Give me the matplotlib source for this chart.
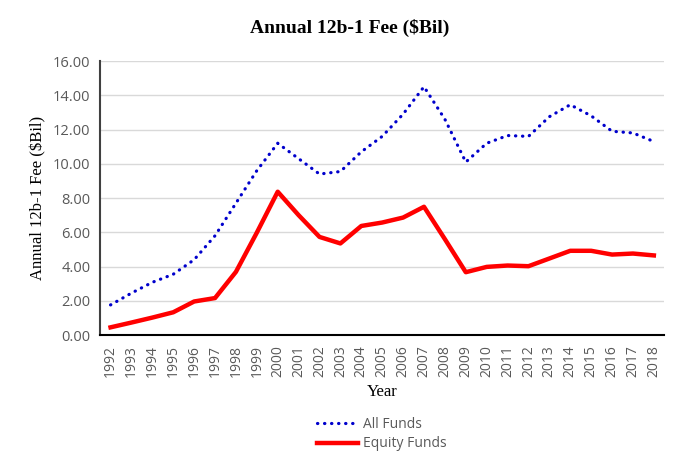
import matplotlib
matplotlib.use("Agg")
import matplotlib.pyplot as plt
import numpy as np

years = list(range(1992, 2019))
all_funds = [1.76, 2.45, 3.08, 3.55, 4.4, 5.8, 7.7, 9.6, 11.2, 10.3, 9.4, 9.55,
             10.7, 11.6, 12.9, 14.5, 12.6, 10.1, 11.2, 11.65, 11.6, 12.75, 13.45,
             12.8, 11.9, 11.8, 11.3]
equity_funds = [0.45, 0.73, 1.02, 1.33, 1.96, 2.16, 3.69, 5.98, 8.37, 7.0, 5.73, 5.35,
                6.37, 6.57, 6.86, 7.49, 5.6, 3.67, 3.98, 4.06, 4.02, 4.47, 4.92,
                4.92, 4.7, 4.76, 4.65]
yticks = [0, 2, 4, 6, 8, 10, 12, 14, 16]

fig = plt.figure(figsize=(7, 4.66), dpi=100)
ax = fig.add_axes([0.143, 0.281, 0.806, 0.588])
x = np.arange(len(years))
ax.plot(x, all_funds, color="#0000CC", lw=2.3, linestyle=(0, (0.1, 2.1)),
        dash_capstyle="round", label="All Funds")
ax.plot(x, equity_funds, color="#FF0000", lw=3.2, label="Equity Funds",
        solid_joinstyle="round")

ax.set_xlim(-0.5, len(years) - 0.5)
ax.set_ylim(0, 16)
ax.set_yticks(yticks)
ax.set_yticklabels([f"{v:.2f}" for v in yticks], fontfamily="Open Sans",
                   fontsize=10.5, color="#595959")
ax.set_xticks(x)
ax.set_xticklabels([str(y) for y in years], rotation=90, fontfamily="Open Sans",
                   fontsize=10, color="#595959")
ax.tick_params(axis="y", length=0, pad=7)
ax.tick_params(axis="x", length=0, pad=7)
ax.yaxis.grid(True, color="#D9D9D9", lw=1)
ax.set_axisbelow(True)
for s in ["top", "right"]:
    ax.spines[s].set_visible(False)
ax.spines["left"].set_color("#404040")
ax.spines["left"].set_linewidth(1.5)
ax.spines["bottom"].set_color("#000000")
ax.spines["bottom"].set_linewidth(1.5)

ax.set_ylabel("Annual 12b-1 Fee (\\$Bil)", fontfamily="Liberation Serif",
              fontsize=12, labelpad=5)
ax.set_xlabel("Year", fontfamily="Liberation Serif", fontsize=12, labelpad=5)
fig.text(0.5, 0.94, "Annual 12b-1 Fee (\\$Bil)", ha="center", va="center",
         fontfamily="Liberation Serif", fontsize=14, fontweight="bold")

leg = fig.legend(loc="center", bbox_to_anchor=(0.545, 0.068), frameon=False,
                 prop={"family": "Open Sans", "size": 10}, handlelength=3,
                 labelspacing=0.3, handletextpad=0.3)
for t in leg.get_texts():
    t.set_color("#595959")

fig.savefig("out.png", dpi=100)
